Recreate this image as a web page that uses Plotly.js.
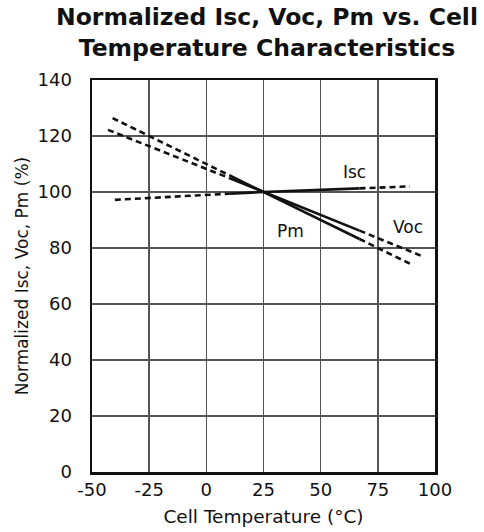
<!DOCTYPE html>
<html><head><meta charset="utf-8">
<script src="https://cdn.plot.ly/plotly-3.0.1.min.js"></script>
<style>html,body{margin:0;padding:0;background:#fff}#c{width:484px;height:532px}</style>
</head><body><div id="c"></div>
<script>
// Data (temperature °C, normalized %)
// Each series: dashed lead-in, solid middle, dashed tail (break indices)
const iscTemp = [-40, 10, 25, 67, 89];
const iscVal  = [97.2, 99.4, 100, 101.3, 102];
const vocTemp = [-43, 10, 25, 67, 94];
const vocVal  = [122.2, 105, 100, 86.2, 77.2];
const pmTemp  = [-41, 10, 25, 67, 89];
const pmVal   = [126.4, 106, 100, 83.2, 74.4];
const xTicks = [-50, -25, 0, 25, 50, 75, 100];
const yTicks = [0, 20, 40, 60, 80, 100, 120, 140];
const labels = [
  {text: 'Isc', x: 65, y: 107},
  {text: 'Pm', x: 37, y: 86},
  {text: 'Voc', x: 88, y: 87.5}
];

function segs(t, v) {
  const line = {color: '#111', width: 2.6};
  return [
    {x: t.slice(0, 2), y: v.slice(0, 2), mode: 'lines', line: Object.assign({}, line, {dash: '6px,4px'}), hoverinfo: 'skip'},
    {x: t.slice(1, 4), y: v.slice(1, 4), mode: 'lines', line: line, hoverinfo: 'skip'},
    {x: t.slice(3, 5), y: v.slice(3, 5), mode: 'lines', line: Object.assign({}, line, {dash: '6px,4px'}), hoverinfo: 'skip'}
  ];
}
const data = [].concat(segs(iscTemp, iscVal), segs(vocTemp, vocVal), segs(pmTemp, pmVal));

const font = {family: 'DejaVu Sans, sans-serif', color: '#111'};
const titleText = '<b>Normalized Isc, Voc, Pm vs. Cell<br>Temperature Characteristics</b>';
const layout = {
  width: 484, height: 532,
  margin: {l: 92, r: 49, t: 80, b: 60},
  showlegend: false,
  paper_bgcolor: '#fff', plot_bgcolor: '#fff',
  xaxis: {
    range: [-50, 100], tickvals: xTicks, ticktext: xTicks.map(String),
    showgrid: true, gridcolor: '#555', gridwidth: 1.5,
    showline: true, linecolor: '#111', linewidth: 2.5, mirror: true,
    zeroline: false, ticks: '', ticklabelstandoff: 0,
    tickfont: Object.assign({}, font, {size: 18}),
    title: {text: 'Cell Temperature (°C)', standoff: 11, font: Object.assign({}, font, {size: 18.5})}
  },
  yaxis: {
    range: [0, 140], tickvals: yTicks, ticktext: yTicks.map(String),
    showgrid: true, gridcolor: '#555', gridwidth: 1.5,
    showline: true, linecolor: '#111', linewidth: 2.5, mirror: true,
    zeroline: false, ticks: '', ticklabelstandoff: 14,
    tickfont: Object.assign({}, font, {size: 18}),
    title: {text: 'Normalized Isc, Voc, Pm (%)', standoff: 5, font: Object.assign({}, font, {size: 17})}
  },
  annotations: [{
    text: titleText, xref: 'paper', yref: 'paper', x: 0.51, y: 1 + (80 - 33) / 392,
    xanchor: 'center', yanchor: 'middle', showarrow: false,
    font: Object.assign({}, font, {size: 23.5})
  }].concat(labels.map(l => ({
    text: l.text, x: l.x, y: l.y, xref: 'x', yref: 'y', showarrow: false,
    font: Object.assign({}, font, {size: 17})
  })))
};
Plotly.newPlot('c', data, layout, {displayModeBar: false, staticPlot: true});
</script></body></html>
